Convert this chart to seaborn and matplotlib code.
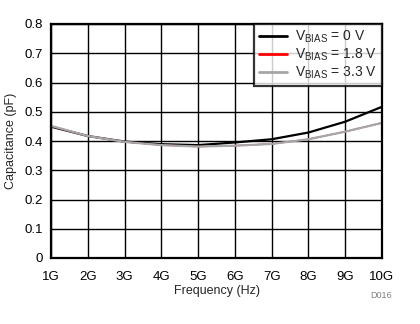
import matplotlib
matplotlib.use("Agg")
import matplotlib.pyplot as plt
import seaborn as sns
import pandas as pd

freq_ghz = [1, 2, 3, 4, 5, 6, 7, 8, 9, 10]
cap_0v = [0.449, 0.417, 0.398, 0.389, 0.386, 0.395, 0.406, 0.429, 0.466, 0.517]
cap_1v8 = [0.451, 0.417, 0.397, 0.386, 0.381, 0.384, 0.390, 0.406, 0.432, 0.462]
cap_3v3 = [0.452, 0.417, 0.397, 0.386, 0.381, 0.384, 0.390, 0.406, 0.432, 0.462]
series_labels = [r"V$_{\mathregular{BIAS}}$ = 0 V", r"V$_{\mathregular{BIAS}}$ = 1.8 V", r"V$_{\mathregular{BIAS}}$ = 3.3 V"]
colors = ["#000000", "#ff0000", "#a6a6a6"]
x_ticklabels = ["1G", "2G", "3G", "4G", "5G", "6G", "7G", "8G", "9G", "10G"]

sns.set_style("white")
plt.rcParams["font.family"] = ["Liberation Sans", "DejaVu Sans"]
plt.rcParams["mathtext.fontset"] = "custom"
plt.rcParams["mathtext.rm"] = "Liberation Sans"

df = pd.concat([
    pd.DataFrame({"f": freq_ghz, "c": vals, "s": lab})
    for vals, lab in zip([cap_0v, cap_1v8, cap_3v3], series_labels)
])

fig = plt.figure(figsize=(4.2, 3.24), dpi=100)
ax = fig.add_axes([51/420, 1 - 258/324, (382-51)/420, (258-24)/324])
sns.lineplot(data=df, x="f", y="c", hue="s", palette=colors, ax=ax, linewidth=1.6, legend=True)
ax.lines[1].set_linewidth(1.0)

ax.set_xlim(1, 10)
ax.set_ylim(0, 0.8)
ax.set_xticks(freq_ghz)
ax.set_xticklabels(x_ticklabels)
ax.set_yticks([0, 0.1, 0.2, 0.3, 0.4, 0.5, 0.6, 0.7, 0.8])
ax.set_yticklabels(["0", "0.1", "0.2", "0.3", "0.4", "0.5", "0.6", "0.7", "0.8"])
ax.grid(True, color="black", linewidth=1.0)
ax.set_axisbelow(True)
for sp in ax.spines.values():
    sp.set_visible(True)
    sp.set_color("black")
    sp.set_linewidth(1.6)
ax.tick_params(axis="x", length=0, labelsize=9.5, pad=9, colors="black")
ax.tick_params(axis="y", length=0, labelsize=9.5, pad=6, colors="black")
ax.set_xlabel("Frequency (Hz)", fontsize=9, labelpad=2)
ax.set_ylabel("Capacitance (pF)", fontsize=9, labelpad=5)

leg = ax.legend(loc="upper right", frameon=True, fontsize=10, borderaxespad=0,
                handlelength=2.0, handletextpad=0.6, labelspacing=0.1,
                borderpad=0.35, fancybox=False)
leg.get_frame().set_edgecolor("black")
leg.get_frame().set_linewidth(1.6)
for line in leg.get_lines():
    line.set_linewidth(2.0)

fig.text(392/420, 1 - 296/324, "D016", fontsize=6.5, color="#808080", ha="right", va="center")

fig.savefig("out.png", dpi=100)
